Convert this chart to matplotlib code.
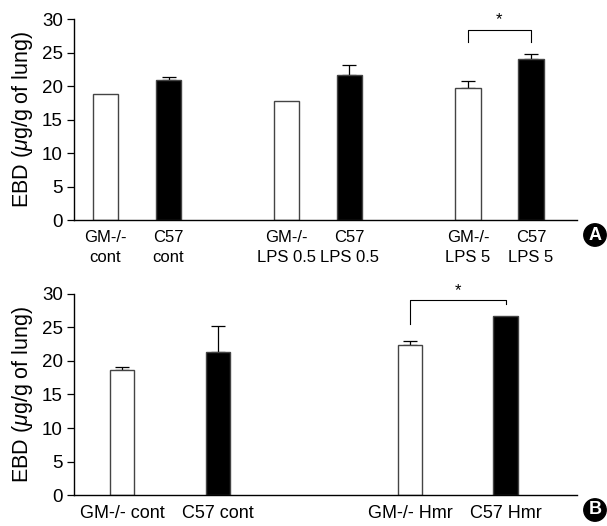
import matplotlib
matplotlib.use("Agg")
import matplotlib.pyplot as plt

plt.rcParams['font.family'] = ['Liberation Sans', 'DejaVu Sans']
plt.rcParams['mathtext.fontset'] = 'custom'
plt.rcParams['mathtext.it'] = 'Liberation Sans:italic'
plt.rcParams['mathtext.rm'] = 'Liberation Sans'

# panel A
labels_a = ['GM-/-\ncont', 'C57\ncont', 'GM-/-\nLPS 0.5', 'C57\nLPS 0.5', 'GM-/-\nLPS 5', 'C57\nLPS 5']
pos_a = [0, 1, 2.87, 3.87, 5.75, 6.75]
vals_a = [18.8, 20.9, 17.7, 21.7, 19.7, 24.0]
err_a = [0.0, 0.4, 0.0, 1.5, 1.0, 0.8]
# panel B
labels_b = ['GM-/- cont', 'C57 cont', 'GM-/- Hmr', 'C57 Hmr']
pos_b = [0, 1, 3, 4]
vals_b = [18.7, 21.3, 22.4, 26.7]
err_b = [0.4, 3.9, 0.5, 0.0]

colors = ['white', 'black']

fig = plt.figure(figsize=(6.07, 5.26), dpi=100)
axA = fig.add_axes([0.1219, 0.5817, 0.8287, 0.3821])
axB = fig.add_axes([0.1219, 0.0584, 0.8287, 0.3833])


def draw(ax, pos, vals, err, labels, width, xlim, fs):
    cols = [colors[i % 2] for i in range(len(vals))]
    ax.bar(pos, vals, width=width, color=cols, edgecolor='#444444', linewidth=1.0, zorder=2)
    for x, v, e in zip(pos, vals, err):
        if e > 0:
            ax.errorbar(x, v, yerr=[[0], [e]], color='black', linewidth=0.9,
                        capsize=5, capthick=0.9, zorder=1)
    ax.set_xlim(*xlim)
    ax.set_ylim(0, 30)
    ax.set_yticks([0, 5, 10, 15, 20, 25, 30])
    ax.set_xticks(pos)
    ax.set_xticklabels(labels, fontsize=fs, linespacing=1.4)
    ax.tick_params(axis='x', length=0, pad=7)
    ax.tick_params(axis='y', direction='out', length=5, width=0.9, labelsize=13.5, pad=3)
    for s in ['top', 'right']:
        ax.spines[s].set_visible(False)
    for s in ['left', 'bottom']:
        ax.spines[s].set_linewidth(1.0)
    ax.set_ylabel(r'EBD ($\mu$g/g of lung)', fontsize=15.5, labelpad=5)


draw(axA, pos_a, vals_a, err_a, labels_a, 0.4, (-0.5, 7.48), 12)
draw(axB, pos_b, vals_b, err_b, labels_b, 0.26, (-0.5, 4.74), 13)


def bracket(ax, x1, x2, ytop, yl, yr, ystar):
    ax.plot([x1, x1, x2, x2], [yl, ytop, ytop, yr], color='black', linewidth=0.8,
            clip_on=False)
    ax.text((x1 + x2) / 2, ystar, '*', ha='center', va='center', fontsize=12,
            clip_on=False)


bracket(axA, pos_a[4], pos_a[5], 28.3, 26.5, 26.5, 29.9)
bracket(axB, pos_b[2], pos_b[3], 29.0, 25.5, 28.4, 30.5)

for letter, yc in [('A', 235 / 526), ('B', 510 / 526)]:
    fig.text(595 / 607, 1 - yc, letter, ha='center', va='center', color='white',
             fontsize=13, fontweight='bold',
             bbox=dict(boxstyle='circle,pad=0.15', facecolor='black', edgecolor='black'))

fig.savefig('out.png', dpi=100)
